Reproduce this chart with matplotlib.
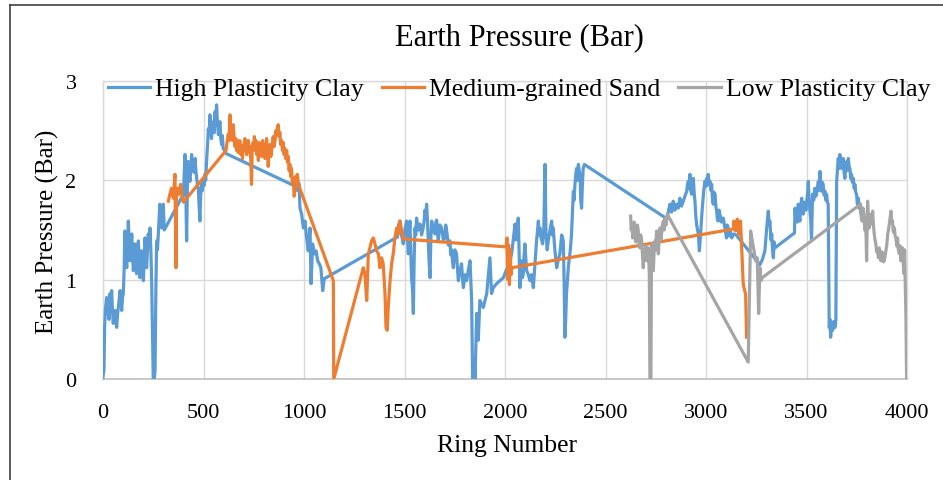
import matplotlib
matplotlib.use("Agg")
import matplotlib.pyplot as plt
from matplotlib.lines import Line2D

plt.rcParams['font.family'] = ['Liberation Serif', 'DejaVu Serif']

# ---------------- data (ring number, earth pressure in bar) ----------------
series_names = ["High Plasticity Clay", "Medium-grained Sand", "Low Plasticity Clay"]
series_colors = ["#5B9BD5", "#ED7D31", "#A5A5A5"]

high_plasticity_clay = [
    (0, 0.02), (5, 0.10), (8, 0.52), (12, 0.70), (18, 0.82), (22, 0.66), (26, 0.72), (30, 0.60),
    (35, 0.86), (39, 0.74), (43, 0.89), (47, 0.70), (51, 0.56), (55, 0.66), (60, 0.69), (64, 0.58),
    (68, 0.52), (72, 0.64), (76, 0.72), (80, 0.80), (85, 0.89), (89, 0.80), (93, 0.69), (97, 0.82),
    (101, 0.86), (105, 1.10), (109, 1.49), (113, 1.30), (118, 1.12), (122, 1.35), (126, 1.59), (130, 1.40),
    (134, 1.19), (138, 1.30), (143, 1.46), (147, 1.25), (151, 1.09), (155, 1.20), (159, 1.36), (163, 1.22),
    (167, 1.06), (171, 1.25), (176, 1.39), (180, 1.20), (184, 1.02), (188, 1.15), (192, 1.29), (196, 1.12),
    (201, 0.99), (205, 1.20), (209, 1.42), (213, 1.30), (217, 1.12), (221, 1.30), (225, 1.46), (230, 1.38),
    (234, 1.52), (238, 1.30), (242, 0.99), (246, 0.50), (250, 0.00), (255, 0.00), (259, 0.09), (263, 0.90),
    (267, 1.39), (271, 1.30), (275, 1.46), (279, 1.60), (283, 1.76), (287, 1.60), (292, 1.52), (296, 1.66),
    (300, 1.76), (305, 1.50),
    (400, 1.86), (404, 2.05), (408, 2.26), (412, 1.90), (416, 1.39), (420, 1.95), (424, 2.19), (428, 2.05),
    (433, 1.99), (437, 2.12), (441, 2.26), (445, 2.10), (449, 2.19), (453, 2.08), (458, 2.22), (462, 2.10),
    (466, 2.02), (470, 1.95), (474, 1.92), (478, 1.75), (482, 1.59), (486, 1.85), (491, 1.96), (495, 1.90),
    (499, 2.02), (503, 1.95), (507, 2.06), (511, 2.00), (516, 2.22), (520, 2.35), (524, 2.52), (528, 2.45),
    (532, 2.66), (536, 2.50), (540, 2.42), (544, 2.55), (549, 2.59), (553, 2.48), (557, 2.69), (561, 2.55),
    (565, 2.76), (569, 2.60), (574, 2.46), (578, 2.55), (582, 2.59), (586, 2.42), (590, 2.36), (594, 2.45),
    (598, 2.32), (605, 2.30), (612, 2.27),
    (947, 1.95), (965, 1.90), (975, 1.97), (980, 1.72), (988, 1.66), (997, 1.52), (1005, 1.59), (1013, 1.42),
    (1021, 1.29), (1030, 1.52), (1035, 0.96), (1043, 1.36), (1051, 1.26), (1060, 1.29), (1068, 1.19),
    (1076, 1.16), (1084, 1.12), (1093, 0.89), (1101, 1.01),
    (1465, 1.43), (1470, 1.55), (1477, 1.59), (1485, 1.45), (1494, 1.36), (1502, 1.50), (1510, 1.59),
    (1515, 1.40), (1519, 1.26), (1523, 1.45), (1527, 1.59), (1531, 1.30), (1535, 1.02), (1540, 0.90),
    (1544, 0.66), (1548, 1.20), (1552, 1.52), (1556, 1.45), (1560, 1.62), (1568, 1.50), (1577, 1.56),
    (1585, 1.45), (1593, 1.52), (1598, 1.60), (1602, 1.70), (1606, 1.62), (1610, 1.76), (1614, 1.60),
    (1618, 1.40), (1622, 1.20), (1627, 1.02), (1631, 1.40), (1635, 1.59), (1643, 1.50), (1652, 1.46),
    (1656, 1.58), (1660, 1.60), (1664, 1.48), (1668, 1.39), (1676, 1.55), (1685, 1.52), (1693, 1.40),
    (1701, 1.42), (1705, 1.55), (1710, 1.49), (1718, 1.35), (1726, 1.39), (1730, 1.25), (1735, 1.30),
    (1739, 1.18), (1743, 1.12), (1751, 1.30), (1759, 1.26), (1764, 1.10), (1768, 0.99), (1776, 1.10),
    (1784, 1.16), (1789, 1.00), (1793, 0.92), (1801, 1.05), (1809, 0.99), (1818, 1.10), (1826, 1.19),
    (1830, 1.00), (1834, 0.79), (1839, 0.00), (1846, 0.19), (1851, 0.00), (1859, 0.66), (1867, 0.39),
    (1875, 0.79), (1892, 0.72), (1909, 0.86), (1925, 1.22), (1933, 0.86), (1942, 0.92), (1958, 0.96),
    (1975, 0.99), (1992, 1.02), (2005, 1.09), (2020, 1.15),
    (2033, 1.26), (2041, 1.40), (2050, 1.56), (2054, 1.40), (2058, 1.46), (2062, 1.55), (2066, 1.62),
    (2070, 1.30), (2074, 0.92), (2079, 1.10), (2083, 1.19), (2087, 1.02), (2091, 1.06), (2095, 1.25),
    (2099, 1.36), (2104, 1.20), (2108, 1.09), (2116, 1.05), (2124, 0.99), (2132, 1.05), (2141, 0.92),
    (2149, 1.15), (2157, 1.39), (2162, 1.50), (2166, 1.59), (2170, 1.45), (2174, 1.52), (2180, 1.42),
    (2187, 1.36), (2193, 1.50), (2199, 2.16), (2204, 1.46), (2210, 1.30), (2215, 1.39), (2224, 1.50),
    (2232, 1.59), (2236, 1.45), (2240, 1.52), (2248, 1.30), (2257, 1.12), (2265, 1.20), (2273, 1.26),
    (2282, 1.45), (2290, 1.39), (2294, 1.00), (2298, 0.42), (2302, 0.60), (2306, 0.86), (2311, 1.00),
    (2315, 1.12), (2319, 1.20), (2323, 1.26), (2327, 1.35), (2331, 1.46), (2336, 1.70), (2340, 1.89),
    (2344, 1.80), (2348, 1.96), (2352, 2.05), (2356, 2.12), (2360, 2.00), (2365, 2.16), (2369, 2.10),
    (2373, 2.06), (2377, 1.80), (2381, 1.72), (2385, 1.95), (2389, 2.12), (2395, 2.16),
    (2800, 1.62), (2807, 1.62), (2814, 1.70), (2821, 1.76), (2829, 1.68), (2837, 1.79), (2845, 1.70),
    (2854, 1.76), (2862, 1.72), (2870, 1.82), (2878, 1.74), (2887, 1.79), (2895, 1.84), (2904, 1.89),
    (2908, 1.96), (2912, 1.99), (2916, 1.92), (2920, 2.06), (2924, 1.90), (2928, 1.86), (2932, 1.98),
    (2937, 2.02), (2941, 1.88), (2945, 1.79), (2949, 1.65), (2953, 1.56), (2958, 1.50), (2962, 1.46),
    (2967, 1.29), (2973, 1.46), (2978, 1.62), (2983, 1.76), (2989, 1.90), (2995, 1.99), (2999, 1.94),
    (3003, 2.02), (3007, 1.95), (3011, 2.06), (3015, 1.96), (3020, 1.99), (3024, 1.90), (3028, 1.96),
    (3032, 1.82), (3036, 1.76), (3040, 1.88), (3045, 1.86), (3049, 1.74), (3053, 1.69), (3057, 1.60),
    (3061, 1.59), (3065, 1.70), (3069, 1.66), (3077, 1.58), (3086, 1.62), (3094, 1.52), (3102, 1.42),
    (3106, 1.55), (3111, 1.52), (3115, 1.44), (3119, 1.49), (3128, 1.42), (3136, 1.46), (3150, 1.45),
    (3268, 1.15), (3280, 1.20), (3293, 1.29), (3302, 1.52), (3310, 1.69), (3314, 1.55), (3318, 1.59),
    (3323, 1.40), (3327, 1.46), (3331, 1.30), (3335, 1.22), (3339, 1.38), (3343, 1.32),
    (3440, 1.47), (3443, 1.72), (3447, 1.60), (3451, 1.66), (3455, 1.58), (3459, 1.76), (3463, 1.66),
    (3467, 1.59), (3471, 1.72), (3476, 1.82), (3480, 1.70), (3484, 1.66), (3488, 1.78), (3492, 1.76),
    (3497, 1.70), (3501, 1.79), (3505, 1.86), (3509, 1.99), (3513, 1.80), (3517, 1.69), (3521, 1.60),
    (3525, 1.39), (3530, 1.86), (3536, 1.80), (3542, 1.92), (3546, 1.84), (3550, 1.86), (3555, 1.94),
    (3559, 1.99), (3563, 1.90), (3567, 2.09), (3571, 1.95), (3575, 1.89), (3579, 1.98), (3583, 1.96),
    (3588, 1.85), (3592, 1.89), (3596, 1.80), (3600, 1.86), (3604, 1.78), (3608, 1.76), (3613, 0.52),
    (3617, 0.60), (3620, 0.42), (3625, 0.55), (3630, 0.49), (3636, 0.58), (3642, 0.52), (3646, 0.59),
    (3650, 1.99), (3654, 2.10), (3658, 2.22), (3662, 2.12), (3666, 2.26), (3670, 2.14), (3675, 2.12),
    (3679, 2.20), (3683, 2.22), (3687, 2.08), (3691, 2.02), (3695, 2.14), (3700, 2.19), (3704, 2.10),
    (3708, 2.22), (3712, 2.14), (3716, 2.12), (3720, 2.02), (3724, 2.06), (3728, 1.98), (3733, 2.02),
    (3737, 1.92), (3741, 1.96), (3745, 1.88), (3749, 1.86), (3753, 1.76), (3758, 1.82), (3762, 1.72),
    (3766, 1.76), (3770, 1.68), (3774, 1.65),
]

medium_grained_sand = [
    (325, 1.79), (333, 1.86), (341, 1.92), (350, 1.82), (358, 2.06), (363, 1.12), (366, 1.85), (370, 1.92),
    (378, 1.86), (386, 1.96), (395, 1.82), (400, 1.78),
    (612, 2.30), (617, 2.38), (623, 2.46), (627, 2.40), (632, 2.66), (636, 2.45), (640, 2.52), (644, 2.40),
    (648, 2.56), (652, 2.44), (657, 2.34), (661, 2.42), (665, 2.30), (669, 2.40), (673, 2.28), (677, 2.36),
    (681, 2.40), (685, 2.26), (690, 2.32), (694, 2.22), (698, 2.36), (702, 2.30), (706, 2.42), (710, 2.34),
    (715, 2.26), (719, 2.36), (723, 2.40), (727, 2.28), (731, 2.34), (735, 2.22), (739, 1.96), (742, 2.30),
    (746, 2.38), (750, 2.30), (753, 2.44), (757, 2.34), (761, 2.40), (765, 2.26), (769, 2.32), (773, 2.20),
    (778, 2.38), (782, 2.28), (786, 2.34), (790, 2.24), (794, 2.40), (797, 2.30), (801, 2.36), (806, 2.22),
    (810, 2.34), (814, 2.42), (818, 2.30), (822, 2.14), (826, 2.28), (831, 2.36), (835, 2.24), (839, 2.30),
    (843, 2.38), (847, 2.44), (851, 2.34), (856, 2.40), (860, 2.50), (864, 2.46), (868, 2.54), (872, 2.56),
    (876, 2.44), (880, 2.48), (884, 2.36), (889, 2.40), (893, 2.30), (897, 2.38), (901, 2.26), (905, 2.32),
    (909, 2.22), (914, 2.30), (918, 2.18), (922, 2.24), (926, 2.10), (930, 2.16), (934, 2.04), (938, 2.12),
    (942, 1.98), (947, 2.02), (951, 1.84), (955, 1.90), (959, 2.04), (963, 1.96), (967, 2.06), (972, 1.96),
    (1146, 0.99), (1148, 0.00),
    (1295, 1.12), (1303, 1.06), (1312, 0.79), (1320, 1.26), (1328, 1.32), (1336, 1.39), (1345, 1.42),
    (1353, 1.36), (1361, 1.29), (1370, 1.26), (1378, 1.12), (1386, 1.22), (1394, 1.16), (1403, 0.86),
    (1408, 0.52), (1414, 0.49), (1419, 0.72), (1428, 0.99), (1436, 1.16), (1444, 1.26), (1452, 1.42),
    (1461, 1.52), (1469, 1.46), (1477, 1.59), (1486, 1.49), (1494, 1.41),
    (2005, 1.33), (2010, 1.42), (2014, 1.00), (2018, 1.35), (2022, 0.95), (2026, 1.30), (2030, 1.05),
    (2034, 1.12),
    (3136, 1.51), (3139, 1.59), (3147, 1.49), (3156, 1.61), (3164, 1.46), (3172, 1.59), (3179, 1.26),
    (3185, 0.96), (3192, 0.89), (3197, 0.86), (3202, 0.42),
]

low_plasticity_clay = [
    (2625, 1.64), (2628, 1.50), (2632, 1.56), (2635, 1.42), (2638, 1.46), (2642, 1.58), (2647, 1.52),
    (2651, 1.38), (2655, 1.42), (2659, 1.55), (2663, 1.49), (2667, 1.36), (2671, 1.32), (2675, 1.45),
    (2680, 1.39), (2684, 1.25), (2688, 1.12), (2692, 1.30), (2696, 1.26), (2700, 1.34), (2705, 1.19),
    (2709, 1.28), (2713, 1.32), (2718, 1.06), (2721, 0.00), (2726, 0.00), (2729, 1.36), (2733, 1.20),
    (2738, 1.09), (2742, 1.30), (2746, 1.39), (2750, 1.30), (2754, 1.49), (2758, 1.38), (2763, 1.26),
    (2767, 1.42), (2771, 1.52), (2775, 1.40), (2779, 1.46), (2783, 1.55), (2788, 1.59), (2792, 1.50),
    (2796, 1.62), (2801, 1.55), (2807, 1.66),
    (3210, 0.17), (3222, 1.49), (3230, 1.39), (3239, 1.29), (3247, 1.19), (3255, 1.22), (3262, 0.66),
    (3268, 1.12), (3273, 0.99), (3280, 1.02),
    (3769, 1.76), (3773, 1.62), (3777, 1.59), (3781, 1.72), (3786, 1.66), (3790, 1.50), (3794, 1.56),
    (3797, 1.40), (3799, 1.19), (3802, 1.55), (3804, 1.79), (3808, 1.62), (3812, 1.52), (3816, 1.60),
    (3821, 1.66), (3825, 1.56), (3829, 1.69), (3833, 1.55), (3837, 1.46), (3841, 1.40), (3845, 1.36),
    (3849, 1.28), (3854, 1.29), (3858, 1.22), (3862, 1.32), (3866, 1.24), (3870, 1.19), (3875, 1.28),
    (3879, 1.26), (3883, 1.18), (3887, 1.19), (3891, 1.24), (3895, 1.29), (3900, 1.36), (3904, 1.46),
    (3908, 1.50), (3912, 1.56), (3916, 1.62), (3920, 1.69), (3924, 1.58), (3928, 1.59), (3932, 1.48),
    (3937, 1.52), (3941, 1.44), (3945, 1.42), (3949, 1.34), (3953, 1.42), (3957, 1.30), (3962, 1.26),
    (3966, 1.34), (3970, 1.19), (3974, 1.30), (3978, 1.32), (3982, 1.14), (3985, 1.06), (3988, 1.30),
    (3991, 0.99), (3995, 0.60), (3998, 0.00),
]

x_ticks = [0, 500, 1000, 1500, 2000, 2500, 3000, 3500, 4000]
y_ticks = [0, 1, 2, 3]

# ---------------- figure ----------------
W, H = 943, 481
fig = plt.figure(figsize=(W / 100, H / 100), dpi=100)
ax = fig.add_axes([103 / W, 1 - 380 / H, (907 - 103) / W, (380 - 82) / H])

for pts, nm, col in zip([high_plasticity_clay, medium_grained_sand, low_plasticity_clay],
                        series_names, series_colors):
    rx = [p[0] for p in pts]
    ry = [p[1] for p in pts]
    ax.plot(rx, ry, color=col, lw=2.3, label=nm, solid_joinstyle='round', zorder=3)

ax.set_xlim(0, 4000)
ax.set_ylim(0, 3)
ax.set_xticks(x_ticks)
ax.set_yticks(y_ticks)
ax.set_xticklabels([str(t) for t in x_ticks], fontsize=16)
ax.set_yticklabels([str(t) for t in y_ticks], fontsize=16)
ax.tick_params(axis='y', length=0, pad=19)
ax.tick_params(axis='x', length=0, pad=17)
ax.grid(True, color="#d9d9d9", lw=1.0, zorder=0)
for s in ["top", "right", "left"]:
    ax.spines[s].set_color("#d9d9d9")
    ax.spines[s].set_linewidth(1.0)
ax.spines["bottom"].set_color("#bfbfbf")
ax.spines["bottom"].set_linewidth(1.2)

fig.text(507 / W, 1 - 446 / H, "Ring Number", fontsize=18.4, ha='center', va='center')
fig.text(47 / W, 1 - 232 / H, "Earth Pressure (Bar)", fontsize=18, ha='center', va='center',
         rotation=90)
fig.text(519 / W, 1 - 38 / H, "Earth Pressure (Bar)", fontsize=22, ha='center', va='center')

handles = [Line2D([0], [0], color=c, lw=2.3) for c in series_colors]
leg = fig.legend(handles, series_names, loc='center', bbox_to_anchor=(519 / W, 1 - 90 / H),
                 ncol=3, frameon=False, fontsize=18.5, handlelength=1.65, handletextpad=0.2,
                 columnspacing=0.7, borderpad=0.0, borderaxespad=0.0)

# outer frame lines (left and top)
fig.add_artist(Line2D([10 / W, 10 / W], [0, 1 - 6 / H], transform=fig.transFigure, color="#404040", lw=1.2))
fig.add_artist(Line2D([10 / W, 1], [1 - 6 / H, 1 - 6 / H], transform=fig.transFigure, color="#404040", lw=1.2))

fig.savefig("out.png", dpi=100, facecolor="white")
